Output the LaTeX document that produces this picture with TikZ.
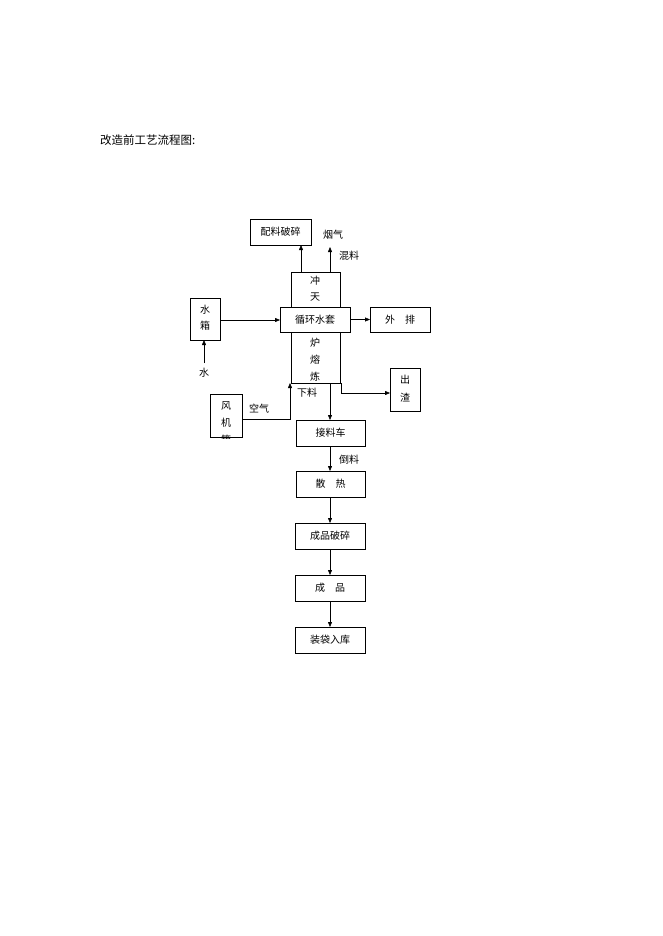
\documentclass[tikz,border=0pt]{standalone}
\usepackage{fontspec}
\setmainfont{Noto Sans CJK SC}
\usetikzlibrary{arrows.meta}
\begin{document}
\begin{tikzpicture}[x=1pt,y=-1pt,font=\fontsize{10}{12}\selectfont,
  bx/.style={draw,thick,inner sep=0pt},
  ar/.style={-{Triangle[length=5pt,width=4pt]}},
  lb/.style={inner sep=0pt}]
\useasboundingbox (0,0) rectangle (662,936);
\node[lb,anchor=west,font=\fontsize{11.5}{13}\selectfont] (title) at (100,140) {改造前工艺流程图:};
% furnace
\draw[thick] (291,272) rectangle (340,383);
\node[lb] (c1) at (315,281) {冲};
\node[lb] (c2) at (315,297) {天};
\node[lb] (c3) at (315,343) {炉};
\node[lb] (c4) at (315,360) {熔};
\node[lb] (c5) at (315,377) {炼};
\draw[bx,fill=white] (280,307) rectangle (350,332);
\node[lb] (jk) at (315,319.5) {循环水套};
\coordinate (furn) at (315,383);
% top
\draw[bx] (250,219) rectangle (311,245);
\node[lb] (pl) at (280.5,232) {配料破碎};
\coordinate (t1) at (301,272); \coordinate (t1e) at (301,245);
\draw[ar] (t1) -- (t1e);
\coordinate (t2) at (330,272); \coordinate (t2e) at (330,247);
\draw[ar] (t2) -- (t2e);
\node[lb] (yq) at (333,235) {烟气};
\node[lb] (hl) at (349,256) {混料};
% water tank
\draw[bx] (190,298) rectangle (220,340);
\node[lb] (sx1) at (205,310) {水};
\node[lb] (sx2) at (205,326) {箱};
\draw[ar] (220,320) -- (280,320);
\node[lb] (w) at (204,373) {水};
\draw[ar] (204,363) -- (204,340);
% outflow
\draw[bx] (370,307) rectangle (430,332);
\node[lb] (wp) at (400,319.5) {外\quad 排};
\draw[ar] (350,319.5) -- (370,319.5);
% slag
\draw[bx] (390,368) rectangle (420,411);
\node[lb] (cz1) at (405,380) {出};
\node[lb] (cz2) at (405,398) {渣};
\draw[ar] (341,383) -- (341,393) -- (390,393);
% blower
\begin{scope}
\clip (209,393) rectangle (243,438);
\draw[bx] (210,394) rectangle (242,437);
\node[lb] (fj1) at (226,406) {风};
\node[lb] (fj2) at (226,423) {机};
\node[lb] (fj3) at (226,440) {箱};
\end{scope}
\node[lb] (kq) at (259,409) {空气};
\draw[ar] (242,419) -- (290,419) -- (290,383);
\node[lb] (xl) at (307,393) {下料};
% chain
\draw[bx] (296,420) rectangle (365,446);
\node[lb] (jl) at (330.5,433) {接料车};
\draw[ar] (330,383) -- (330,420);
\draw[bx] (296,471) rectangle (365,497);
\node[lb] (sr) at (330.5,484) {散\quad 热};
\draw[ar] (330,446) -- (330,471);
\node[lb] (dl) at (349,460) {倒料};
\draw[bx] (295,523) rectangle (365,549);
\node[lb] (cp) at (330,536) {成品破碎};
\draw[ar] (330,497) -- (330,523);
\draw[bx] (295,575) rectangle (365,601);
\node[lb] (cpp) at (330,588) {成\quad 品};
\draw[ar] (330,549) -- (330,575);
\draw[bx] (295,627) rectangle (365,653);
\node[lb] (zd) at (330,640) {装袋入库};
\draw[ar] (330,601) -- (330,627);
\end{tikzpicture}
\end{document}
